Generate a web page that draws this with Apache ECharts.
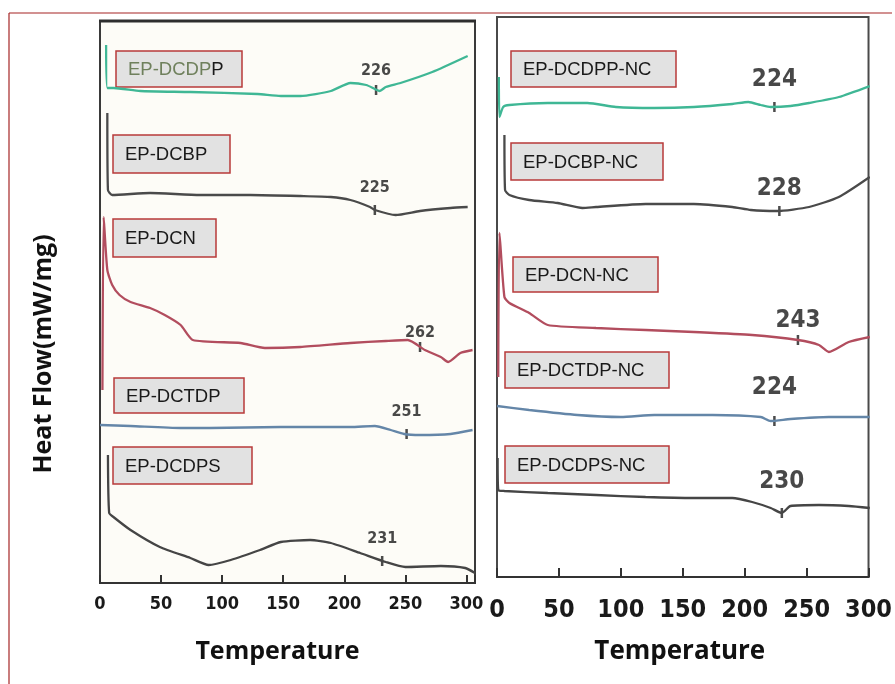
<!DOCTYPE html>
<html>
<head>
<meta charset="utf-8">
<script src="https://cdn.jsdelivr.net/npm/echarts@6/dist/echarts.min.js"></script>
<style>
html, body { margin: 0; padding: 0; background: #fff; }
#main { width: 895px; height: 684px; }
</style>
</head>
<body>
<div id="main"></div>
<script>
// sample names (left: neat resins, right: nanocomposites)
var leftNames = ['EP-DCDPP', 'EP-DCBP', 'EP-DCN', 'EP-DCTDP', 'EP-DCDPS'];
var rightNames = ['EP-DCDPP-NC', 'EP-DCBP-NC', 'EP-DCN-NC', 'EP-DCTDP-NC', 'EP-DCDPS-NC'];
var tempTicks = [0, 50, 100, 150, 200, 250, 300];

// DSC curves, [temperature, heat flow (a.u., stacked offset)]
var epDCDPP = [[5, 53.8], [6, 49.5], [11, 49.5], [33, 49.2], [74, 49.1], [129, 48.9], [148, 48.7], [164, 48.7], [189, 49.2], [205, 50.0], [218, 49.8], [225, 49.4], [229, 49.2], [234, 49.6], [246, 50.0], [272, 51.1], [301, 52.7]];
var epDCBP = [[6, 47.0], [6.5, 39.3], [10, 38.8], [41, 39.0], [82, 38.8], [123, 38.8], [164, 38.7], [189, 38.6], [205, 38.3], [221, 37.6], [225, 37.3], [242, 36.8], [262, 37.2], [287, 37.5], [301, 37.6]];
var epDCN = [[2, 19.3], [3, 36.6], [6, 31.3], [10, 29.8], [16, 28.8], [25, 28.1], [41, 27.5], [53, 26.8], [66, 25.8], [76, 24.3], [115, 24.0], [135, 23.5], [164, 23.6], [205, 24.0], [234, 24.2], [252, 24.3], [266, 23.3], [279, 22.6], [285, 22.1], [295, 23.0], [305, 23.3]];
var epDCTDP = [[0, 15.8], [25, 15.7], [66, 15.5], [90, 15.5], [148, 15.6], [205, 15.6], [225, 15.7], [238, 15.3], [249, 14.9], [262, 14.8], [287, 14.9], [305, 15.3]];
var epDCDPS = [[6.5, 12.8], [7.5, 7.0], [11, 6.6], [25, 5.3], [49, 3.6], [74, 2.5], [89, 1.8], [107, 2.3], [131, 3.3], [148, 4.1], [172, 4.3], [189, 4.0], [213, 3.0], [234, 2.1], [250, 1.6], [279, 1.7], [299, 1.5], [307, 1.0]];

var ncDCDPP = [[1.5, 50.0], [2, 46.0], [5, 47.0], [10, 47.2], [41, 47.4], [73, 47.4], [96, 47.0], [127, 46.9], [159, 47.0], [190, 47.3], [203, 47.5], [213, 47.2], [221, 47.0], [237, 47.1], [252, 47.4], [276, 48.0], [301, 49.1]];
var ncDCBP = [[6, 44.2], [6.5, 38.7], [10, 38.2], [26, 37.7], [49, 37.4], [69, 36.9], [80, 37.0], [120, 37.3], [159, 37.3], [190, 37.0], [205, 36.7], [226, 36.6], [252, 37.0], [276, 38.0], [301, 40.0]];
var ncDCN = [[1, 20.0], [2, 34.4], [6, 28.0], [10, 27.4], [26, 26.4], [41, 25.2], [80, 24.9], [120, 24.7], [159, 24.5], [206, 24.2], [243, 23.7], [260, 23.2], [268, 22.5], [284, 23.5], [301, 24.0]];
var ncDCTDP = [[0, 17.1], [26, 16.7], [65, 16.2], [100, 16.0], [127, 16.2], [174, 16.2], [213, 16.0], [221, 15.6], [237, 15.8], [268, 16.0], [301, 16.0]];
var ncDCDPS = [[0.5, 11.9], [1, 8.7], [6, 8.6], [41, 8.4], [80, 8.2], [120, 8.0], [159, 7.9], [190, 7.9], [206, 7.5], [221, 6.9], [230, 6.4], [237, 7.1], [260, 7.2], [284, 7.1], [301, 6.9]];

// marked transition temperatures and curve level there
var leftPeakT = [226, 225, 262, 251, 231];
var leftPeakV = [49.3, 37.3, 23.6, 14.9, 2.2];
var rightPeakT = [224, 228, 243, 224, 230];
var rightPeakV = [47.0, 36.6, 23.7, 15.6, 6.4];

var colors = ['#3fb795', '#4a4a4a', '#b24d5e', '#6486a8', '#454545'];

// layout of annotations (pixels)
var boxLeft = [[116, 51, 126, 36], [113, 135, 117, 38], [113, 219, 103, 38], [114, 378, 130, 35], [113, 447, 139, 37]];
var boxRight = [[511, 51, 165, 36], [511, 143, 152, 37], [513, 257, 145, 35], [505, 352, 164, 36], [505, 446, 164, 37]];
var leftLabelGap = [6, 9, 1, 9, 9];
var rightLabelGap = [10, 5, 2, 16, 14];

var chart = echarts.init(document.getElementById('main'));

var boxFont = '18.5px "Liberation Sans", Arial, sans-serif';

function makeBox(b, name, i, left) {
    var txt = name;
    if (left && i === 0) txt = '{g|EP-DCDP}{k|P}';
    return {
        type: 'group',
        children: [{
            type: 'rect',
            shape: { x: b[0], y: b[1], width: b[2], height: b[3] },
            style: { fill: '#e2e2e2', stroke: '#b83a3a', lineWidth: 1.5 }
        }, {
            type: 'text',
            x: b[0] + 12,
            y: b[1] + b[3] / 2 + 1,
            style: {
                text: txt,
                fill: '#1a1a1a',
                font: boxFont,
                verticalAlign: 'middle',
                rich: {
                    g: { fill: '#6f805c', font: boxFont },
                    k: { fill: '#1a1a1a', font: boxFont }
                }
            }
        }]
    };
}

var graphics = [
    { type: 'line', shape: { x1: 9, y1: 13, x2: 892, y2: 13 }, style: { stroke: '#a52525', lineWidth: 1.2 } },
    { type: 'line', shape: { x1: 9, y1: 13, x2: 9, y2: 684 }, style: { stroke: '#a52525', lineWidth: 1.2 } },
    { type: 'line', shape: { x1: 99, y1: 21, x2: 476, y2: 21 }, style: { stroke: '#2e2e2e', lineWidth: 3 } },
    {
        type: 'text', x: 44, y: 354, rotation: Math.PI / 2,
        style: {
            text: 'Heat Flow(mW/mg)', fill: '#111', align: 'center', verticalAlign: 'middle',
            font: 'bold 25px "Open Sans", "DejaVu Sans", sans-serif'
        }
    }
];
leftNames.forEach(function (n, i) { graphics.push(makeBox(boxLeft[i], n, i, true)); });
rightNames.forEach(function (n, i) { graphics.push(makeBox(boxRight[i], n, i, false)); });

function lineSeries(data, idx, color) {
    return {
        type: 'line',
        xAxisIndex: idx,
        yAxisIndex: idx,
        data: data,
        symbol: 'none',
        smooth: 0.2,
        lineStyle: { color: color, width: 2.3 },
        silent: true
    };
}

function peakSeries(ts, vs, gaps, idx, font) {
    return {
        type: 'scatter',
        xAxisIndex: idx,
        yAxisIndex: idx,
        symbol: 'rect',
        symbolSize: [2.5, 10],
        itemStyle: { color: '#1e1e1e' },
        data: ts.map(function (t, i) {
            return { value: [t, vs[i]], label: { distance: gaps[i] } };
        }),
        label: {
            show: true,
            position: 'top',
            formatter: function (p) { return p.value[0]; },
            color: '#1a1a1a',
            fontWeight: 'bold',
            fontSize: font,
            fontFamily: '"Liberation Sans Narrow", "DejaVu Sans Condensed", sans-serif'
        }
    };
}

var xName = {
    fontWeight: 'bold',
    color: '#111',
    fontFamily: '"Open Sans", "DejaVu Sans", sans-serif'
};

var option = {
    backgroundColor: '#ffffff',
    animation: false,
    grid: [{
        left: 100, right: 420, top: 21, bottom: 101,
        show: true, borderColor: '#3a3a3a', borderWidth: 2, backgroundColor: '#fdfcf7'
    }, {
        left: 497, right: 13, top: 17, bottom: 107,
        show: true, borderColor: '#4a4a4a', borderWidth: 2, backgroundColor: '#ffffff'
    }],
    xAxis: [{
        type: 'value', gridIndex: 0, min: 0, max: 307, interval: 50,
        name: 'Temperature', nameLocation: 'middle', nameGap: 56,
        nameTextStyle: Object.assign({ fontSize: 25, padding: [0, 20, 0, 0] }, xName),
        axisLine: { lineStyle: { color: '#333', width: 2 } },
        axisTick: { inside: true, length: 8, lineStyle: { color: '#333', width: 2 } },
        splitLine: { show: false },
        axisLabel: {
            margin: 12, color: '#1a1a1a', fontWeight: 'bold', fontSize: 18,
            fontFamily: '"Liberation Sans Narrow", "DejaVu Sans Condensed", sans-serif',
            formatter: function (v) { return tempTicks.indexOf(v) >= 0 ? v : ''; }
        }
    }, {
        type: 'value', gridIndex: 1, min: 0, max: 300, interval: 50,
        name: 'Temperature', nameLocation: 'middle', nameGap: 62,
        nameTextStyle: Object.assign({ fontSize: 26, padding: [0, 6, 0, 0] }, xName),
        axisLine: { lineStyle: { color: '#333', width: 2 } },
        axisTick: { inside: true, length: 9, lineStyle: { color: '#333', width: 2 } },
        splitLine: { show: false },
        axisLabel: {
            margin: 21, color: '#1a1a1a', fontWeight: 'bold', fontSize: 25,
            fontFamily: '"Liberation Sans Narrow", "DejaVu Sans Condensed", sans-serif',
            formatter: function (v) { return tempTicks.indexOf(v) >= 0 ? v : ''; }
        }
    }],
    yAxis: [{
        type: 'value', gridIndex: 0, min: 0, max: 56.2,
        axisLine: { show: false }, axisTick: { show: false }, axisLabel: { show: false }, splitLine: { show: false }
    }, {
        type: 'value', gridIndex: 1, min: 0, max: 56.0,
        axisLine: { show: false }, axisTick: { show: false }, axisLabel: { show: false }, splitLine: { show: false }
    }],
    series: [
        lineSeries(epDCDPP, 0, colors[0]),
        lineSeries(epDCBP, 0, colors[1]),
        lineSeries(epDCN, 0, colors[2]),
        lineSeries(epDCTDP, 0, colors[3]),
        lineSeries(epDCDPS, 0, colors[4]),
        lineSeries(ncDCDPP, 1, colors[0]),
        lineSeries(ncDCBP, 1, colors[1]),
        lineSeries(ncDCN, 1, colors[2]),
        lineSeries(ncDCTDP, 1, colors[3]),
        lineSeries(ncDCDPS, 1, colors[4]),
        peakSeries(leftPeakT, leftPeakV, leftLabelGap, 0, 16),
        peakSeries(rightPeakT, rightPeakV, rightLabelGap, 1, 24)
    ],
    graphic: graphics
};

chart.setOption(option);
</script>
</body>
</html>
